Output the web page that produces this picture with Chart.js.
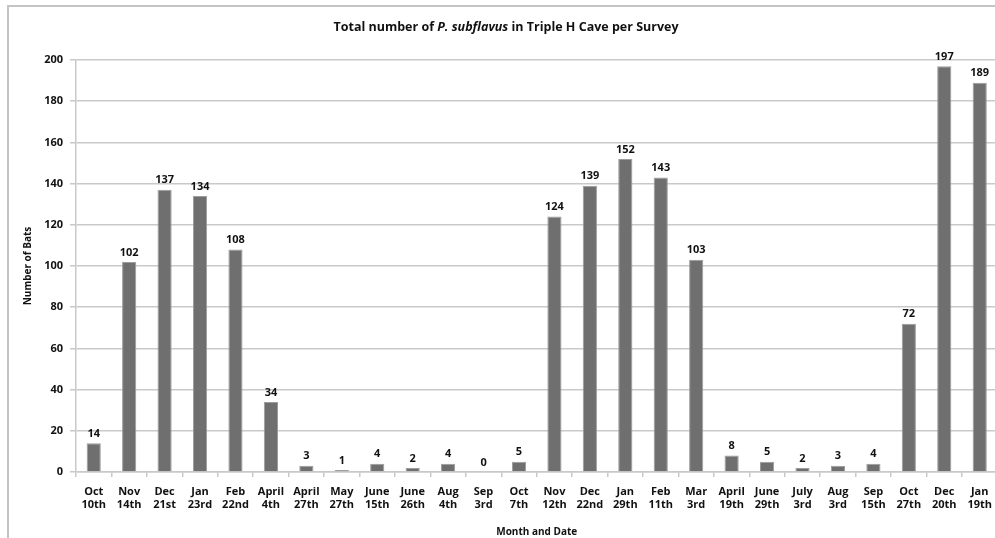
<!DOCTYPE html>
<html lang="en">
<head>
    <meta charset="UTF-8">
    <title>P. subflavus survey</title>
    <script src="https://cdn.jsdelivr.net/npm/chart.js"></script>
    <style>
        body { margin: 0; background: #fff; }
        #wrap { position: relative; width: 995px; height: 538px; overflow: hidden; }
        #frame {
            position: absolute; left: 7px; top: 5px; width: 1100px; height: 600px;
            border: 2px solid #c4c4c4; box-sizing: border-box;
        }
        canvas { position: absolute; left: 0; top: 0; }
    </style>
</head>
<body>
    <div id="wrap">
        <div id="frame"></div>
        <canvas id="batChart" width="1000" height="538"></canvas>
    </div>

    <script>
        const months = ['Oct', 'Nov', 'Dec', 'Jan', 'Feb', 'April', 'April', 'May', 'June', 'June', 'Aug', 'Sep', 'Oct',
            'Nov', 'Dec', 'Jan', 'Feb', 'Mar', 'April', 'June', 'July', 'Aug', 'Sep', 'Oct', 'Dec', 'Jan'];
        const days = ['10th', '14th', '21st', '23rd', '22nd', '4th', '27th', '27th', '15th', '26th', '4th', '3rd', '7th',
            '12th', '22nd', '29th', '11th', '3rd', '19th', '29th', '3rd', '3rd', '15th', '27th', '20th', '19th'];
        const batCounts = [14, 102, 137, 134, 108, 34, 3, 1, 4, 2, 4, 0, 5,
            124, 139, 152, 143, 103, 8, 5, 2, 3, 4, 72, 197, 189];

        const labels = months.map((m, i) => [m, days[i]]);
        const FONT = '"Open Sans", "DejaVu Sans", sans-serif';

        // title with italic species name
        const titlePlugin = {
            id: 'mixedTitle',
            afterDraw(chart) {
                const c = chart.ctx;
                const parts = [
                    ['Total number of ', 'bold 12.5px ' + FONT],
                    ['P. subflavus', 'italic bold 12.5px ' + FONT],
                    [' in Triple H Cave per Survey', 'bold 12.5px ' + FONT]
                ];
                let total = 0;
                parts.forEach(p => { c.font = p[1]; total += c.measureText(p[0]).width; });
                let x = 506 - total / 2;
                c.save();
                c.fillStyle = '#111';
                c.textBaseline = 'middle';
                parts.forEach(p => {
                    c.font = p[1];
                    c.fillText(p[0], x, 27);
                    x += c.measureText(p[0]).width;
                });
                c.restore();
            }
        };

        // value labels over bars
        const valueLabels = {
            id: 'valueLabels',
            afterDatasetsDraw(chart) {
                const c = chart.ctx;
                const meta = chart.getDatasetMeta(0);
                c.save();
                c.font = 'bold 11px ' + FONT;
                c.fillStyle = '#111';
                c.textAlign = 'center';
                c.textBaseline = 'bottom';
                meta.data.forEach((bar, i) => {
                    c.fillText(batCounts[i], bar.x, bar.y - 4);
                });
                c.restore();
            }
        };

        new Chart(document.getElementById('batChart'), {
            type: 'bar',
            data: {
                labels: labels,
                datasets: [{
                    data: batCounts,
                    backgroundColor: '#6f6f6f',
                    borderColor: '#9c9c9c',
                    borderWidth: 1,
                    barPercentage: 0.4,
                    categoryPercentage: 1
                }]
            },
            options: {
                responsive: false,
                animation: false,
                layout: { padding: { top: 60, right: 0, left: 0, bottom: 0 } },
                plugins: {
                    legend: { display: false },
                    tooltip: { enabled: false },
                    title: { display: false }
                },
                scales: {
                    y: {
                        min: 0,
                        max: 200,
                        ticks: {
                            stepSize: 20,
                            color: '#111',
                            font: { family: FONT, size: 11, weight: 'bold' },
                            padding: 7
                        },
                        grid: { color: '#c9c9c9', lineWidth: 1.5, tickLength: 6 },
                        border: { color: '#c9c9c9', width: 1.5 },
                        title: {
                            display: true,
                            text: 'Number of Bats',
                            color: '#111',
                            font: { family: FONT, size: 10, weight: 'bold' },
                            padding: { top: 22, bottom: 0 }
                        },
                        afterFit(scale) { scale.width = 76; }
                    },
                    x: {
                        ticks: {
                            color: '#111',
                            font: { family: FONT, size: 11, weight: 'bold' },
                            maxRotation: 0,
                            autoSkip: false,
                            padding: 8
                        },
                        grid: { drawOnChartArea: false, color: '#c9c9c9', lineWidth: 1.5, tickLength: 5 },
                        border: { color: '#c9c9c9', width: 1.5 },
                        title: {
                            display: true,
                            text: 'Month and Date',
                            color: '#111',
                            font: { family: FONT, size: 10, weight: 'bold' },
                            padding: { top: 4, bottom: 0 }
                        },
                        afterFit(scale) { scale.height = 66; }
                    }
                }
            },
            plugins: [titlePlugin, valueLabels]
        });
    </script>
</body>
</html>
